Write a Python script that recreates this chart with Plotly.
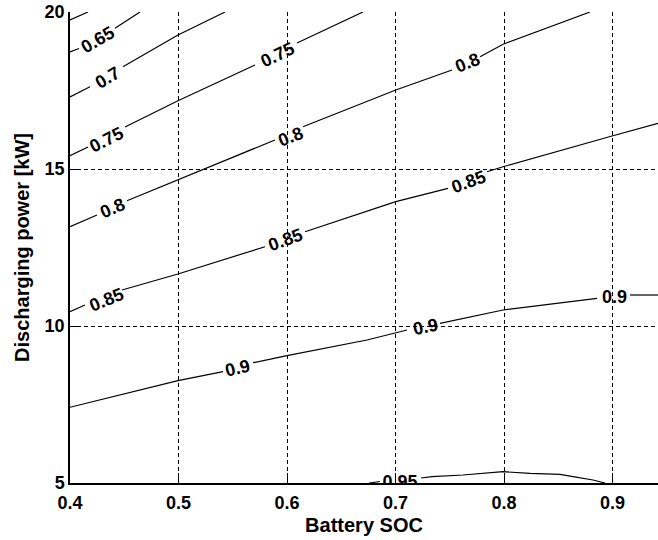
import plotly.graph_objects as go

# Efficiency iso-lines over battery state of charge and discharging power.
# Each line is stored as (SOC, kW) samples; None marks where the line is
# interrupted by its inline value label.
levels = [0.6, 0.65, 0.7, 0.75, 0.8, 0.85, 0.9, 0.95]

soc_060 = [0.400, 0.4166]
kw_060 = [19.745, 20.0]

soc_065 = [0.400, 0.4083, None, 0.4415, 0.4645]
kw_065 = [18.726, 18.838, None, 19.481, 20.0]

soc_070 = [0.400, 0.4184, None, 0.4488, 0.4995, 0.5429]
kw_070 = [17.293, 17.621, None, 18.258, 19.268, 20.0]

soc_075 = [0.400, 0.4166, None, 0.4507, 0.4995, 0.5705, None, 0.6092, 0.6700]
kw_075 = [15.424, 15.701, None, 16.338, 17.175, 18.312, None, 19.013, 20.0]

soc_080 = [0.400, 0.4249, None, 0.4525, 0.4995, 0.5889, None,
           0.6147, 0.7002, 0.7521, None, 0.7779, 0.7991, 0.8793]
kw_080 = [13.162, 13.535, None, 13.990, 14.650, 15.924, None,
          16.347, 17.516, 18.153, None, 18.576, 18.971, 20.0]

soc_085 = [0.400, 0.4138, None, 0.4479, 0.4995, 0.5797, None,
           0.6166, 0.7002, 0.7484, None, 0.7843, 0.7991, 0.8995, 0.9419]
kw_085 = [10.455, 10.669, None, 11.146, 11.656, 12.525, None,
          13.003, 13.959, 14.385, None, 14.914, 15.073, 16.051, 16.455]

soc_090 = [0.400, 0.4995, 0.5410, None, 0.5687, 0.6000, 0.6737, 0.7106, None,
           0.7410, 0.7991, 0.8857, None, 0.9161, 0.9419]
kw_090 = [7.411, 8.258, 8.545, None, 8.831, 9.054, 9.554, 9.873, None,
          10.086, 10.510, 10.882, None, 10.987, 10.987]

soc_095 = [0.6756, 0.6857, None, 0.7235, 0.7336, 0.7622, 0.7899, 0.7991,
           0.8240, 0.8516, 0.8636, 0.8820, 0.8931]
kw_095 = [5.0, 5.048, None, 5.159, 5.201, 5.255, 5.341, 5.360,
          5.309, 5.277, 5.201, 5.096, 5.0]

# Inline value labels: level, SOC, kW
label_level = [0.65, 0.7, 0.75, 0.75, 0.8, 0.8, 0.8, 0.85, 0.85, 0.85, 0.9, 0.9, 0.9]
label_soc = [0.4249, 0.4341, 0.4332, 0.5908, 0.4396, 0.6028, 0.7659,
             0.4332, 0.5982, 0.7668, 0.5548, 0.7272, 0.9014]
label_kw = [19.124, 17.914, 15.924, 18.631, 13.758, 16.029, 18.376,
            10.828, 12.739, 14.596, 8.662, 9.968, 10.933]

# Label of the 0.95 line, sitting on the lower edge of the plot (partly cut off)
low_label_level = [0.95]
low_label_soc = [0.7041]
low_label_kw = [4.975]

x_ticks = [0.4, 0.5, 0.6, 0.7, 0.8, 0.9]
y_ticks = [5, 10, 15, 20]

lines = [
    (soc_060, kw_060), (soc_065, kw_065), (soc_070, kw_070), (soc_075, kw_075),
    (soc_080, kw_080), (soc_085, kw_085), (soc_090, kw_090), (soc_095, kw_095),
]

label_angle = [-30, -30, -27, -25, -24, -22, -22, -22, -20, -20, -13, -12, 0]

FONT = "Liberation Sans, Arial, sans-serif"

fig = go.Figure()

for lvl, (xs, ys) in zip(levels, lines):
    fig.add_trace(go.Scatter(
        x=xs, y=ys, mode="lines", name=f"{lvl:g}",
        line=dict(color="black", width=1.2),
        connectgaps=False, hoverinfo="skip", showlegend=False,
    ))

fig.add_trace(go.Scatter(
    x=low_label_soc, y=low_label_kw, mode="text",
    text=[f"{v:g}" for v in low_label_level],
    textposition="middle center",
    textfont=dict(family=FONT, size=18, color="black", weight="bold"),
    cliponaxis=True, hoverinfo="skip", showlegend=False,
))

for lvl, xs, ys, ang in zip(label_level, label_soc, label_kw, label_angle):
    fig.add_annotation(
        x=xs, y=ys, xref="x", yref="y", text=f"{lvl:g}",
        showarrow=False, textangle=ang, xanchor="center", yanchor="middle",
        font=dict(family=FONT, size=18, color="black", weight="bold"),
    )

axis_common = dict(
    showgrid=True, gridcolor="black", gridwidth=1, griddash="4px,3px",
    showline=True, linecolor="black", linewidth=1.5, mirror=False,
    ticks="inside", ticklen=10, tickcolor="black", tickwidth=1.2,
    zeroline=False,
    tickfont=dict(family=FONT, size=18, color="black", weight="bold"),
)

fig.update_xaxes(
    range=[0.4, 0.9419], tickvals=x_ticks,
    ticktext=[f"{v:g}" for v in x_ticks],
    ticklabelstandoff=3,
    title=dict(text="Battery SOC", standoff=6,
               font=dict(family=FONT, size=20, color="black", weight="bold")),
    **axis_common,
)
fig.update_yaxes(
    range=[5, 20], tickvals=y_ticks,
    ticktext=[f"{v:g}" for v in y_ticks],
    title=dict(text="Discharging power [kW]", standoff=10,
               font=dict(family=FONT, size=20, color="black", weight="bold")),
    **axis_common,
)

fig.update_layout(
    width=658, height=540,
    margin=dict(l=70, r=0, t=12, b=57),
    plot_bgcolor="white", paper_bgcolor="white",
)

fig.write_html("out.html")
